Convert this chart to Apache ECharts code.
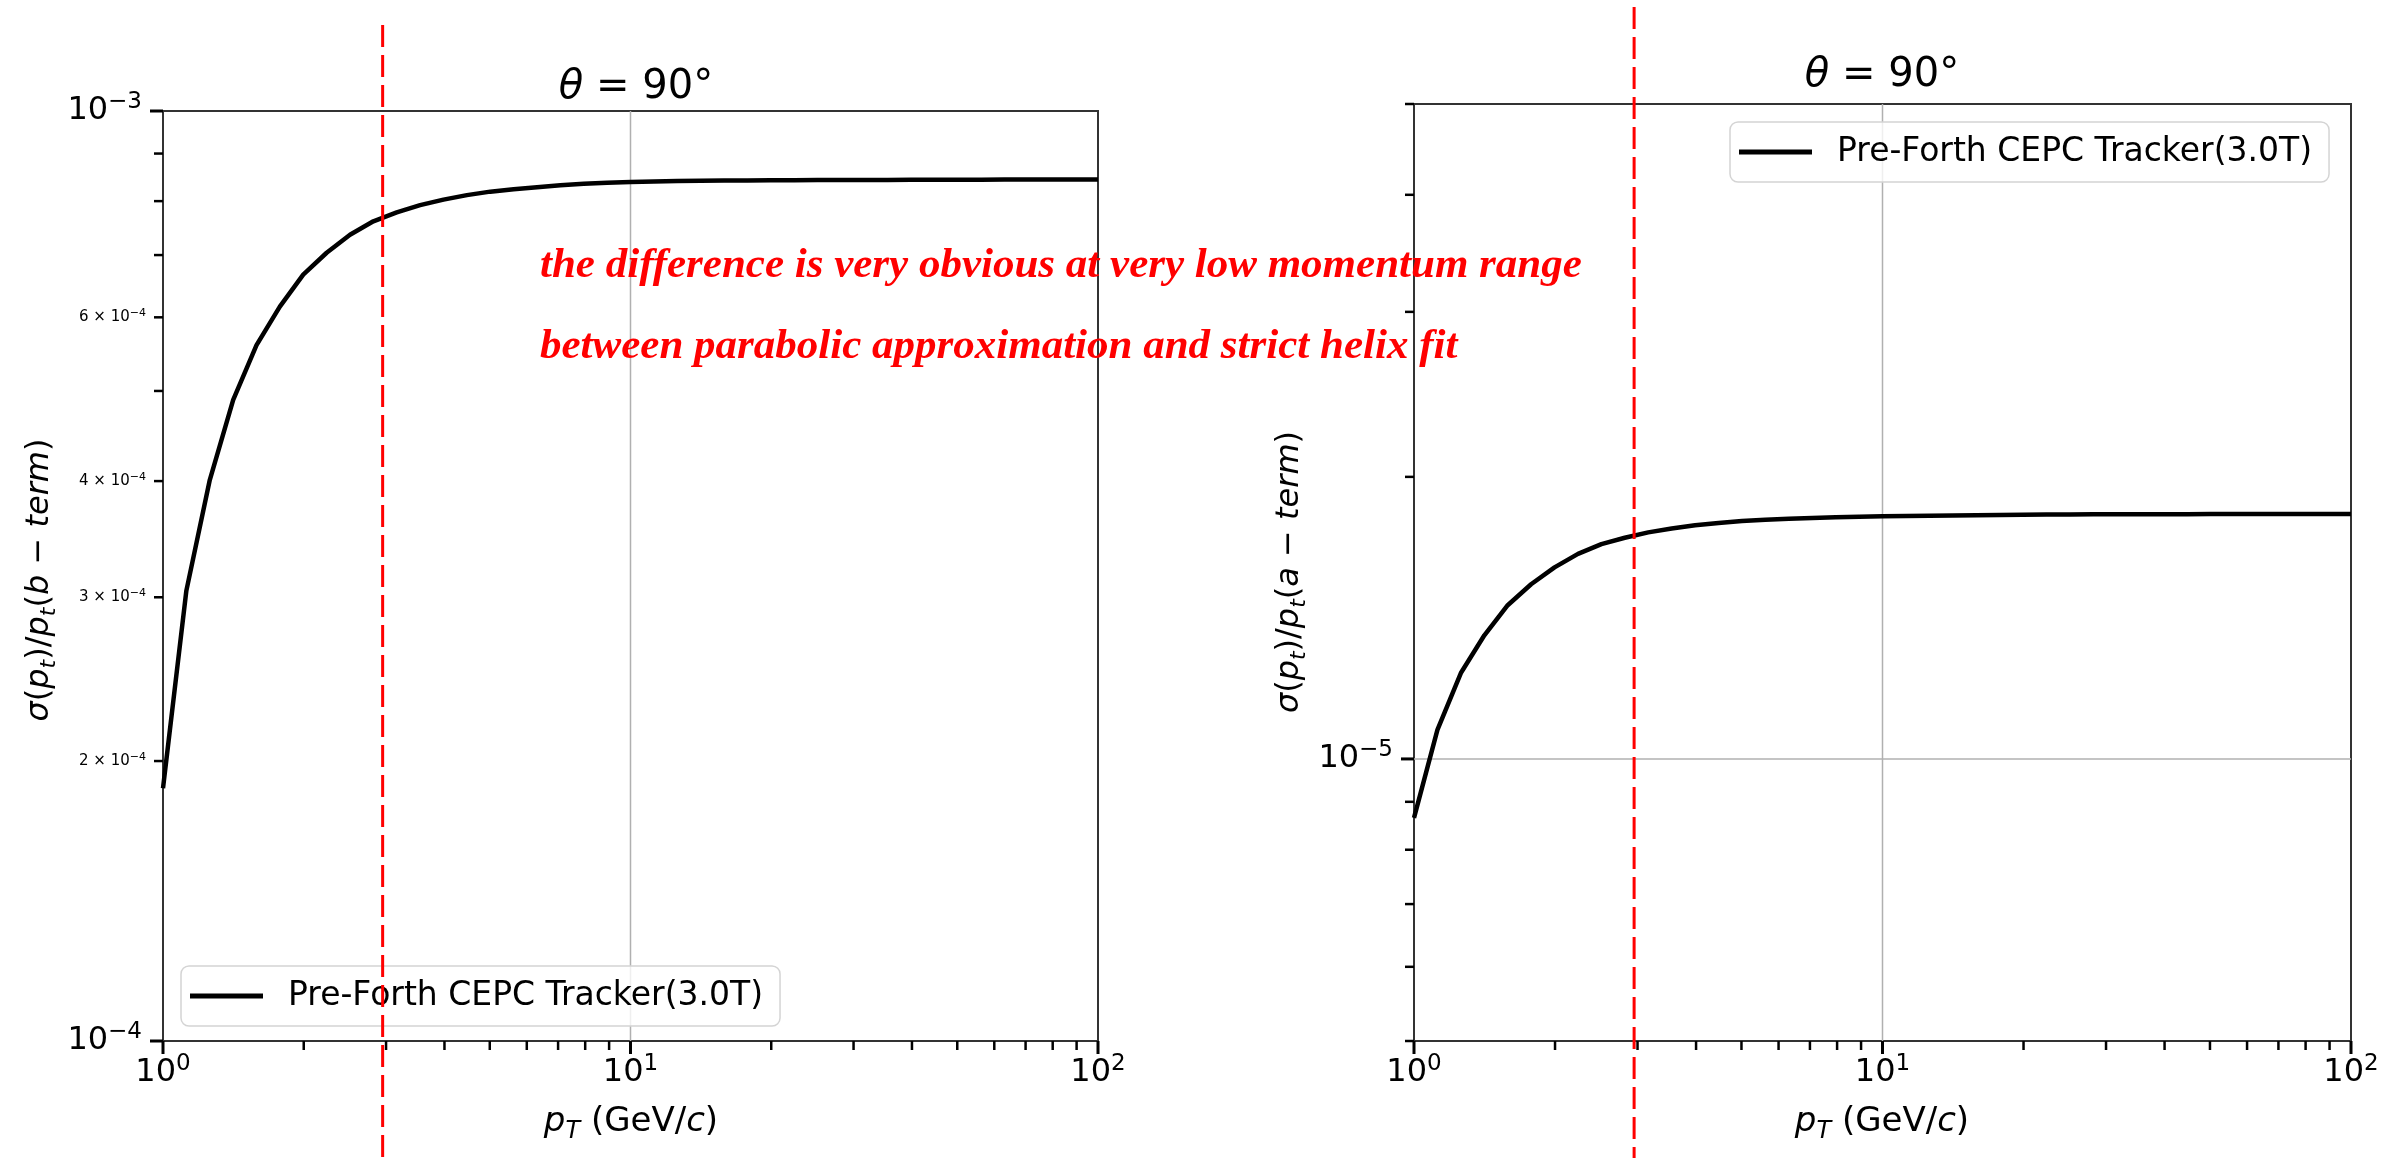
<!DOCTYPE html>
<html><head><meta charset="utf-8">
<script src="https://cdn.jsdelivr.net/npm/echarts@6/dist/echarts.min.js"></script>
<style>html,body{margin:0;padding:0;background:#fff}#c{width:2384px;height:1158px}</style>
</head><body><div id="c"></div>
<script>
// ---------------- data ----------------
const pT = [1, 1.122, 1.259, 1.413, 1.585, 1.778, 1.995, 2.239, 2.512, 2.818, 3.162, 3.548, 3.981, 4.467, 5.012, 5.623, 6.310, 7.079, 7.943, 8.913,
  10, 11.22, 12.59, 14.13, 15.85, 17.78, 19.95, 22.39, 25.12, 28.18, 31.62, 35.48, 39.81, 44.67, 50.12, 56.23, 63.10, 70.79, 79.43, 89.13, 100];
const bTerm = [1.87e-4, 3.05e-4, 4.01e-4, 4.89e-4, 5.60e-4, 6.16e-4, 6.67e-4, 7.04e-4, 7.36e-4, 7.61e-4, 7.78e-4, 7.92e-4, 8.03e-4, 8.12e-4, 8.19e-4, 8.24e-4, 8.28e-4, 8.32e-4, 8.35e-4, 8.37e-4,
  8.39e-4, 8.40e-4, 8.41e-4, 8.415e-4, 8.42e-4, 8.42e-4, 8.425e-4, 8.425e-4, 8.43e-4, 8.43e-4, 8.43e-4, 8.43e-4, 8.435e-4, 8.435e-4, 8.435e-4, 8.435e-4, 8.44e-4, 8.44e-4, 8.44e-4, 8.44e-4, 8.44e-4];
const aTerm = [0.865e-5, 1.074e-5, 1.235e-5, 1.355e-5, 1.459e-5, 1.536e-5, 1.601e-5, 1.655e-5, 1.695e-5, 1.722e-5, 1.745e-5, 1.762e-5, 1.776e-5, 1.786e-5, 1.794e-5, 1.800e-5, 1.804e-5, 1.808e-5, 1.811e-5, 1.813e-5,
  1.815e-5, 1.817e-5, 1.818e-5, 1.819e-5, 1.820e-5, 1.821e-5, 1.822e-5, 1.823e-5, 1.823e-5, 1.824e-5, 1.824e-5, 1.825e-5, 1.825e-5, 1.825e-5, 1.826e-5, 1.826e-5, 1.826e-5, 1.826e-5, 1.826e-5, 1.826e-5, 1.826e-5];
const seriesName = 'Pre-Forth CEPC Tracker(3.0T)';
const xRange = [1, 100];
const leftYRange = [1e-4, 1e-3];
const rightYRange = [5e-6, 5e-5];
const xMajorTicks = [1, 10, 100];
const xMajorExp = ['0', '1', '2'];
const xMinorTicks = [2, 3, 4, 5, 6, 7, 8, 9, 20, 30, 40, 50, 60, 70, 80, 90];
const xGridValues = [10];
const leftYMajorTicks = [1e-4, 1e-3];
const leftYMajorExp = ['−4', '−3'];
const leftYMinorTicks = [2e-4, 3e-4, 4e-4, 5e-4, 6e-4, 7e-4, 8e-4, 9e-4];
const leftYMinorMant = ['2', '3', '4', '', '6', '', '', ''];
const leftYMinorExp = '−4';
const rightYMajorTicks = [1e-5];
const rightYMajorExp = ['−5'];
const rightYMinorTicks = [5e-6, 6e-6, 7e-6, 8e-6, 9e-6, 2e-5, 3e-5, 4e-5, 5e-5];
const rightYGridValues = [1e-5];
const cutValue = 2.95;
const titleText = '{i|θ}{n| = 90°}';
const xLabelText = '{i|p}{subi|T}{n| (GeV/}{i|c}{n|)}';
const leftYLabelText = '{i|σ}{n|(}{i|p}{subi|t}{n|)/}{i|p}{subi|t}{n|(}{i|b}{n| − }{i|term}{n|)}';
const rightYLabelText = '{i|σ}{n|(}{i|p}{subi|t}{n|)/}{i|p}{subi|t}{n|(}{i|a}{n| − }{i|term}{n|)}';
const noteLines = ['the difference is very obvious at very low momentum range', 'between parabolic approximation and strict helix fit'];

// ---------------- style ----------------
const FONT = 'DejaVu Sans';
function richSet(S) {
  const L = Math.round(S * 1.25);
  return {
    n: {fontSize: S, fontFamily: FONT, fill: '#000', lineHeight: L},
    i: {fontSize: S, fontFamily: FONT, fontStyle: 'italic', fill: '#000', lineHeight: L},
    sup: {fontSize: Math.round(S * 0.72), fontFamily: FONT, fill: '#000', lineHeight: Math.round(L - 0.32 * S), verticalAlign: 'top'},
    subi: {fontSize: Math.round(S * 0.7), fontFamily: FONT, fontStyle: 'italic', fill: '#000', lineHeight: Math.round(0.75 * S), verticalAlign: 'bottom'}
  };
}
const RICH_TICK = richSet(32);
const RICH_SMALL = richSet(15);
const RICH_XLABEL = richSet(34);
const RICH_YLABEL = richSet(32);
const RICH_TITLE = richSet(40);

function buildDecor(yRange, yMajor, yMajorExp, yMinor, yMinorMant, yMinorExp, yGrid) {
  const data = [], labels = [];
  xGridValues.forEach(v => { data.push([v, yRange[0], 4]); labels.push(''); });
  yGrid.forEach(v => { data.push([xRange[0], v, 5]); labels.push(''); });
  xMajorTicks.forEach((v, i) => { data.push([v, yRange[0], 0]); labels.push('{n|10}{sup|' + xMajorExp[i] + '}'); });
  xMinorTicks.forEach(v => { data.push([v, yRange[0], 1]); labels.push(''); });
  yMajor.forEach((v, i) => { data.push([xRange[0], v, 2]); labels.push('{n|10}{sup|' + yMajorExp[i] + '}'); });
  yMinor.forEach((v, i) => {
    data.push([xRange[0], v, 3]);
    const m = yMinorMant ? yMinorMant[i] : '';
    labels.push(m ? '{n|' + m + ' × 10}{sup|' + yMinorExp + '}' : '');
  });
  return {data, labels};
}
const decorL = buildDecor(leftYRange, leftYMajorTicks, leftYMajorExp, leftYMinorTicks, leftYMinorMant, leftYMinorExp, []);
const decorR = buildDecor(rightYRange, rightYMajorTicks, rightYMajorExp, rightYMinorTicks, null, '', rightYGridValues);

function makeRender(labels) {
  return function (params, api) {
    const kind = api.value(2);
    const p = api.coord([api.value(0), api.value(1)]);
    const cs = params.coordSys;
    const lab = labels[params.dataIndex];
    if (kind === 4) return {type: 'line', shape: {x1: p[0], y1: cs.y, x2: p[0], y2: cs.y + cs.height}, style: {stroke: '#b0b0b0', lineWidth: 1.5}};
    if (kind === 5) return {type: 'line', shape: {x1: cs.x, y1: p[1], x2: cs.x + cs.width, y2: p[1]}, style: {stroke: '#b0b0b0', lineWidth: 1.5}};
    const children = [];
    if (kind === 0 || kind === 1) {
      const len = kind === 0 ? 13 : 9;
      children.push({type: 'line', shape: {x1: p[0], y1: p[1], x2: p[0], y2: p[1] + len}, style: {stroke: '#000', lineWidth: kind === 0 ? 3 : 2.5}});
      if (lab) children.push({type: 'text', style: {text: lab, x: p[0], y: p[1] + 12, align: 'center', verticalAlign: 'top', rich: RICH_TICK}});
    } else {
      const len = kind === 2 ? 13 : 9;
      children.push({type: 'line', shape: {x1: p[0] - len, y1: p[1], x2: p[0], y2: p[1]}, style: {stroke: '#000', lineWidth: kind === 2 ? 3 : 2.5}});
      if (lab) children.push({type: 'text', style: {text: lab, x: p[0] - (kind === 2 ? 21 : 17), y: p[1], align: 'right', verticalAlign: 'middle', rich: kind === 2 ? RICH_TICK : RICH_SMALL}});
    }
    return {type: 'group', children};
  };
}

const chart = echarts.init(document.getElementById('c'), null, {renderer: 'canvas'});
const hiddenAxis = {axisLine: {show: false}, axisTick: {show: false}, axisLabel: {show: false}, splitLine: {show: false}, minorTick: {show: false}};
function legendAt(left, top) {
  return {data: [seriesName], left, top, orient: 'horizontal', icon: 'rect', itemWidth: 73, itemHeight: 5, selectedMode: false,
    padding: [10, 17, 10, 9], backgroundColor: 'rgba(255,255,255,0.8)', borderColor: '#d4d4d4', borderWidth: 1.5, borderRadius: 8,
    textStyle: {fontFamily: FONT, fontSize: 33, color: '#000', lineHeight: 40, padding: [0, 0, 0, 20]}};
}
chart.setOption({
  animation: false,
  backgroundColor: '#fff',
  grid: [
    {left: 163, top: 111, width: 935, height: 930, show: true, borderColor: '#333', borderWidth: 2, backgroundColor: 'transparent'},
    {left: 1414, top: 104, width: 937, height: 937, show: true, borderColor: '#333', borderWidth: 2, backgroundColor: 'transparent'}
  ],
  xAxis: [
    Object.assign({type: 'log', logBase: 10, min: xRange[0], max: xRange[1], gridIndex: 0}, hiddenAxis),
    Object.assign({type: 'log', logBase: 10, min: xRange[0], max: xRange[1], gridIndex: 1}, hiddenAxis)
  ],
  yAxis: [
    Object.assign({type: 'log', logBase: 10, min: leftYRange[0], max: leftYRange[1], gridIndex: 0}, hiddenAxis),
    Object.assign({type: 'log', logBase: 10, min: rightYRange[0], max: rightYRange[1], gridIndex: 1}, hiddenAxis)
  ],
  legend: [legendAt(181, 966), legendAt(1730, 122)],
  series: [
    {type: 'custom', name: 'decorL', xAxisIndex: 0, yAxisIndex: 0, z: 1, silent: true, renderItem: makeRender(decorL.labels), data: decorL.data},
    {type: 'custom', name: 'decorR', xAxisIndex: 1, yAxisIndex: 1, z: 1, silent: true, renderItem: makeRender(decorR.labels), data: decorR.data},
    {type: 'line', name: seriesName, xAxisIndex: 0, yAxisIndex: 0, z: 3, showSymbol: false, symbol: 'none', smooth: false,
      lineStyle: {color: '#000', width: 4.5}, itemStyle: {color: '#000'}, data: pT.map((x, i) => [x, bTerm[i]])},
    {type: 'line', name: seriesName, xAxisIndex: 1, yAxisIndex: 1, z: 3, showSymbol: false, symbol: 'none', smooth: false,
      lineStyle: {color: '#000', width: 4.5}, itemStyle: {color: '#000'}, data: pT.map((x, i) => [x, aTerm[i]])}
  ]
});

const xCutL = chart.convertToPixel({xAxisIndex: 0}, cutValue);
const xCutR = chart.convertToPixel({xAxisIndex: 1}, cutValue);
const noteStyle = {fontFamily: 'Liberation Serif', fontWeight: 'bold', fontStyle: 'italic', fontSize: 43, fill: '#ff0000'};
chart.setOption({
  graphic: [
    {type: 'text', x: 636, y: 88, z: 10, style: {text: titleText, align: 'center', verticalAlign: 'middle', rich: RICH_TITLE}},
    {type: 'text', x: 1882, y: 76, z: 10, style: {text: titleText, align: 'center', verticalAlign: 'middle', rich: RICH_TITLE}},
    {type: 'text', x: 631, y: 1122, z: 10, style: {text: xLabelText, align: 'center', verticalAlign: 'middle', rich: RICH_XLABEL}},
    {type: 'text', x: 1882, y: 1122, z: 10, style: {text: xLabelText, align: 'center', verticalAlign: 'middle', rich: RICH_XLABEL}},
    {type: 'text', x: 40, y: 580, rotation: Math.PI / 2, z: 10, style: {text: leftYLabelText, align: 'center', verticalAlign: 'middle', rich: RICH_YLABEL}},
    {type: 'text', x: 1290, y: 572, rotation: Math.PI / 2, z: 10, style: {text: rightYLabelText, align: 'center', verticalAlign: 'middle', rich: RICH_YLABEL}},
    {type: 'text', x: 540, y: 266, z: 20, style: Object.assign({text: noteLines[0], align: 'left', verticalAlign: 'middle'}, noteStyle)},
    {type: 'text', x: 540, y: 347, z: 20, style: Object.assign({text: noteLines[1], align: 'left', verticalAlign: 'middle'}, noteStyle)},
    {type: 'line', z: 30, shape: {x1: xCutL, y1: 25, x2: xCutL, y2: 1158}, style: {stroke: '#ff0000', lineWidth: 3, lineDash: [22, 8]}},
    {type: 'line', z: 30, shape: {x1: xCutR, y1: 7, x2: xCutR, y2: 1158}, style: {stroke: '#ff0000', lineWidth: 3, lineDash: [22, 8]}}
  ]
});
</script></body></html>
